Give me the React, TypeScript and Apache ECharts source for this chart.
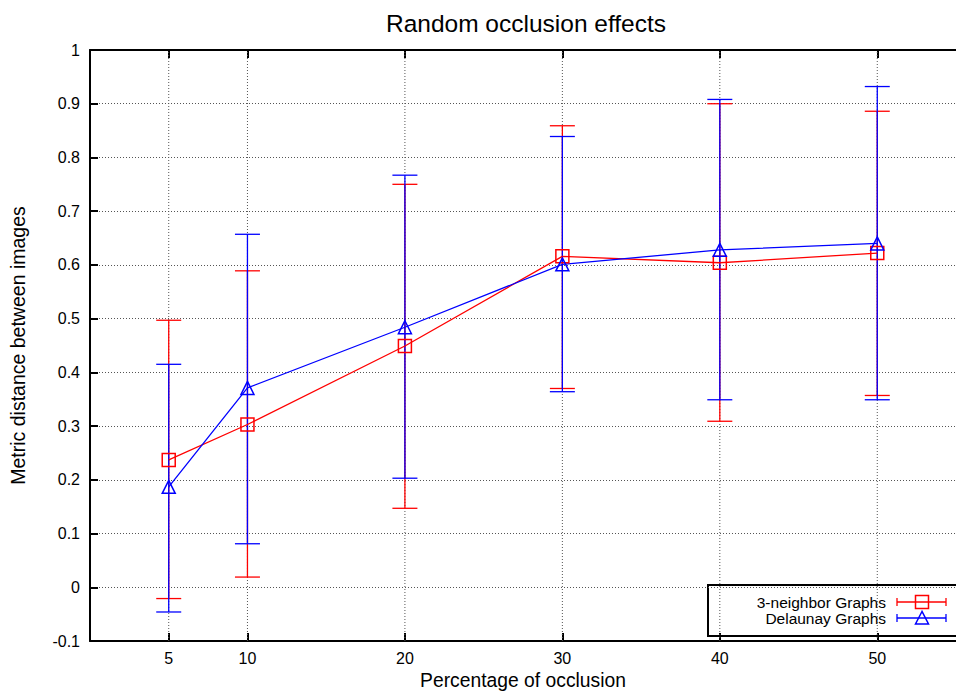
import React, { useEffect, useRef } from "react";
import * as echarts from "echarts";

const titleText = "Random occlusion effects";
const xName = "Percentage of occlusion";
const yName = "Metric distance between images";
const xTicks = [5, 10, 20, 30, 40, 50];
const occlusion = [5, 10, 20, 30, 40, 50];

const seriesNames = ["3-neighbor Graphs", "Delaunay Graphs"];
const neighborMean = [0.237, 0.303, 0.449, 0.616, 0.604, 0.622];
const neighborLow = [-0.021, 0.019, 0.147, 0.37, 0.309, 0.357];
const neighborHigh = [0.497, 0.589, 0.75, 0.859, 0.9, 0.886];
const delaunayMean = [0.187, 0.371, 0.484, 0.601, 0.628, 0.64];
const delaunayLow = [-0.046, 0.081, 0.203, 0.364, 0.349, 0.349];
const delaunayHigh = [0.415, 0.657, 0.767, 0.839, 0.908, 0.932];

const RED = "#ff0000";
const BLUE = "#0000ff";
const FONT = "Liberation Sans, Arial, Helvetica, sans-serif";

function errorSeries(name: string, color: string, low: number[], high: number[]) {
  return {
    type: "custom",
    name: name + " err",
    z: 3,
    silent: true,
    data: occlusion.map((x, i) => [x, low[i], high[i]]),
    renderItem: (params: any, api: any) => {
      const x = api.value(0);
      const pLo = api.coord([x, api.value(1)]);
      const pHi = api.coord([x, api.value(2)]);
      const hw = 12.5;
      const st = { stroke: color, lineWidth: 1.3 };
      return {
        type: "group",
        children: [
          { type: "line", shape: { x1: pLo[0], y1: pLo[1], x2: pHi[0], y2: pHi[1] }, style: st },
          { type: "line", shape: { x1: pLo[0] - hw, y1: pLo[1], x2: pLo[0] + hw, y2: pLo[1] }, style: st },
          { type: "line", shape: { x1: pHi[0] - hw, y1: pHi[1], x2: pHi[0] + hw, y2: pHi[1] }, style: st },
        ],
      };
    },
  };
}

function lineSeries(name: string, color: string, symbol: string, mean: number[]) {
  return {
    type: "line",
    name,
    z: 4,
    data: occlusion.map((x, i) => [x, mean[i]]),
    symbol,
    symbolSize: 13,
    showAllSymbol: true,
    lineStyle: { color, width: 1.3 },
    itemStyle: { color: "rgba(0,0,0,0)", borderColor: color, borderWidth: 1.5 },
    emphasis: { disabled: true },
  };
}

export default function App() {
  const ref = useRef<HTMLDivElement>(null);
  useEffect(() => {
    if (!ref.current) return;
    const chart = echarts.init(ref.current, null, { renderer: "svg" });
    const axisLine = { show: true, onZero: false, lineStyle: { color: "#000", width: 2 } };
    const tick = { show: true, inside: true, length: 8, lineStyle: { color: "#000", width: 2 } };
    const legendY = [602, 618];
    chart.setOption({
      animation: false,
      textStyle: { fontFamily: FONT },
      grid: { left: 86, top: 50, right: -10, bottom: 50, containLabel: false },
      xAxis: [
        {
          type: "value",
          min: 0,
          max: 55,
          position: "bottom",
          axisLine,
          axisTick: { ...tick, customValues: xTicks },
          axisLabel: { customValues: xTicks, fontSize: 16, color: "#000", margin: 9, fontFamily: FONT },
          splitLine: { show: false },
          name: xName,
          nameLocation: "middle",
          nameGap: 30,
          nameTextStyle: { fontSize: 19.3, color: "#000", fontFamily: FONT },
        },
        {
          type: "value",
          min: 0,
          max: 55,
          position: "top",
          axisLine,
          axisTick: { ...tick, customValues: xTicks },
          axisLabel: { show: false },
          splitLine: { show: false },
        },
      ],
      yAxis: [
        {
          type: "value",
          min: -0.1,
          max: 1,
          interval: 0.1,
          axisLine,
          axisTick: tick,
          axisLabel: {
            fontSize: 16,
            color: "#000",
            margin: 10,
            fontFamily: FONT,
            formatter: (v: number) => String(+v.toFixed(1)),
          },
          splitLine: { show: true, lineStyle: { type: [1, 2], color: "#555", width: 1 } },
          name: yName,
          nameLocation: "middle",
          nameRotate: 90,
          nameGap: 62,
          nameTextStyle: { fontSize: 19.5, color: "#000", fontFamily: FONT },
        },
      ],
      series: [
        {
          type: "custom",
          name: "vgrid",
          z: 1,
          silent: true,
          data: xTicks.map((x) => [x]),
          renderItem: (params: any, api: any) => {
            const x = api.value(0);
            const p0 = api.coord([x, -0.1]);
            const p1 = api.coord([x, 1]);
            return {
              type: "line",
              shape: { x1: p0[0], y1: p0[1], x2: p1[0], y2: p1[1] },
              style: { stroke: "#555", lineWidth: 1, lineDash: [1, 2] },
            };
          },
        },
        errorSeries(seriesNames[0], RED, neighborLow, neighborHigh),
        lineSeries(seriesNames[0], RED, "rect", neighborMean),
        errorSeries(seriesNames[1], BLUE, delaunayLow, delaunayHigh),
        lineSeries(seriesNames[1], BLUE, "triangle", delaunayMean),
      ],
      graphic: [
        {
          type: "text",
          x: 526,
          y: 23,
          z: 100,
          style: {
            text: titleText,
            fontSize: 24.5,
            fontFamily: FONT,
            fill: "#000",
            textAlign: "center",
            textVerticalAlign: "middle",
          },
        },
        {
          type: "group",
          z: 100,
          children: [
            {
              type: "rect",
              shape: { x: 708, y: 585, width: 300, height: 51 },
              style: { fill: "#fff", stroke: "#000", lineWidth: 2 },
            },
            ...seriesNames.map((n, i) => ({
              type: "text",
              x: 886,
              y: legendY[i],
              style: {
                text: n,
                fontSize: 15.5,
                fontFamily: FONT,
                fill: "#000",
                textAlign: "right",
                textVerticalAlign: "middle",
              },
            })),
            ...[RED, BLUE].flatMap((c, i) => [
              { type: "line", shape: { x1: 897, y1: legendY[i], x2: 946, y2: legendY[i] }, style: { stroke: c, lineWidth: 1.3 } },
              { type: "line", shape: { x1: 897, y1: legendY[i] - 4, x2: 897, y2: legendY[i] + 4 }, style: { stroke: c, lineWidth: 1.3 } },
              { type: "line", shape: { x1: 946, y1: legendY[i] - 4, x2: 946, y2: legendY[i] + 4 }, style: { stroke: c, lineWidth: 1.3 } },
            ]),
            {
              type: "rect",
              shape: { x: 915.5, y: legendY[0] - 6.5, width: 13, height: 13 },
              style: { fill: "none", stroke: RED, lineWidth: 1.5 },
            },
            {
              type: "polygon",
              shape: { points: [[922, legendY[1] - 6.5], [915.5, legendY[1] + 6], [928.5, legendY[1] + 6]] },
              style: { fill: "none", stroke: BLUE, lineWidth: 1.5 },
            },
          ],
        },
      ],
    });
    return () => chart.dispose();
  }, []);
  return <div ref={ref} style={{ width: 956, height: 695, position: "absolute", left: 0, top: 0 }} />;
}
